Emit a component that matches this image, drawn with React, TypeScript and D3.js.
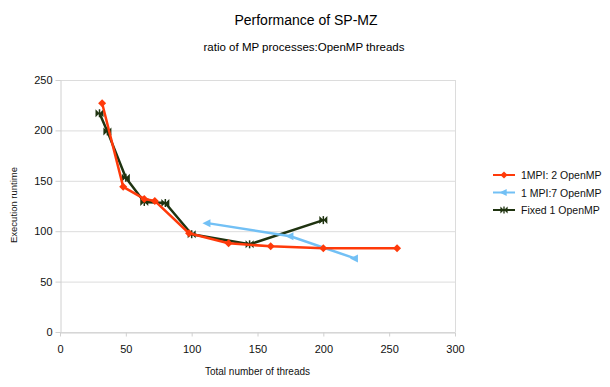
import React, { useRef, useEffect } from 'react';
import * as d3 from 'd3';

interface Pt {
    x: number;
    y: number;
}

// series values
const mpi2Threads = [32, 48, 64, 72, 98, 128, 160, 200, 256];
const mpi2Runtime = [227, 144, 132, 130, 98, 88, 85, 83, 83];

const mpi7Threads = [112, 175, 224];
const mpi7Runtime = [108, 95, 73];

const fixedThreads = [30, 36, 50, 64, 80, 100, 144, 200];
const fixedRuntime = [217, 199, 153, 129, 128, 97, 87, 111];

const seriesNames = ['1MPI: 2 OpenMP', '1 MPI:7 OpenMP', 'Fixed 1 OpenMP'];
const seriesColors = ['#ff3a0a', '#72c0f5', '#1f3310'];

const xTicks = [0, 50, 100, 150, 200, 250, 300];
const yTicks = [0, 50, 100, 150, 200, 250];

const zip = (xs: number[], ys: number[]): Pt[] => xs.map((x, i) => ({ x, y: ys[i] }));

const App: React.FC = () => {
    const svgRef = useRef<SVGSVGElement | null>(null);
    const width = 610;
    const height = 387;

    useEffect(() => {
        if (!svgRef.current) return;
        const svg = d3.select(svgRef.current);
        svg.selectAll('*').remove();

        const font = 'Arial, "Liberation Sans", sans-serif';
        const margin = { top: 80, right: 155, bottom: 55, left: 60 };
        const innerWidth = width - margin.left - margin.right;
        const innerHeight = height - margin.top - margin.bottom;

        const xScale = d3.scaleLinear().domain([0, 300]).range([0, innerWidth]);
        const yScale = d3.scaleLinear().domain([0, 250]).range([innerHeight, 0]);

        svg.append('rect').attr('width', width).attr('height', height).attr('fill', 'white');

        svg.append('text')
            .attr('x', 306)
            .attr('y', 25)
            .attr('text-anchor', 'middle')
            .attr('font-family', font)
            .attr('font-size', 14)
            .attr('fill', '#000')
            .text('Performance of SP-MZ');

        svg.append('text')
            .attr('x', 304)
            .attr('y', 51)
            .attr('text-anchor', 'middle')
            .attr('font-family', font)
            .attr('font-size', 11.5)
            .attr('fill', '#000')
            .text('ratio of MP processes:OpenMP threads');

        const g = svg.append('g').attr('transform', `translate(${margin.left},${margin.top})`);

        // grid
        g.selectAll('.grid')
            .data(yTicks)
            .enter()
            .append('line')
            .attr('x1', 0)
            .attr('x2', innerWidth)
            .attr('y1', (d) => yScale(d) + 0.5)
            .attr('y2', (d) => yScale(d) + 0.5)
            .attr('stroke', '#dcdcdc');

        g.append('line')
            .attr('x1', innerWidth + 0.5)
            .attr('x2', innerWidth + 0.5)
            .attr('y1', 0)
            .attr('y2', innerHeight)
            .attr('stroke', '#dcdcdc');

        const xAxis = d3.axisBottom(xScale).tickValues(xTicks).tickSize(4).tickSizeOuter(0);
        const yAxis = d3.axisLeft(yScale).tickValues(yTicks).tickSize(5).tickSizeOuter(0);

        const gx = g.append('g').attr('transform', `translate(0,${innerHeight + 0.5})`).call(xAxis);
        const gy = g.append('g').attr('transform', 'translate(0.5,0)').call(yAxis);
        [gx, gy].forEach((ax) => {
            ax.select('.domain').attr('stroke', '#d0d0d0');
            ax.selectAll('line').attr('stroke', '#d0d0d0');
            ax.selectAll('text')
                .attr('font-family', font)
                .attr('font-size', 11)
                .attr('fill', '#111');
        });
        gx.selectAll('text').attr('dy', '1.2em');
        gy.selectAll('text').attr('x', -8);

        g.append('text')
            .attr('x', innerWidth / 2)
            .attr('y', innerHeight + 43)
            .attr('text-anchor', 'middle')
            .attr('font-family', font)
            .attr('font-size', 10)
            .attr('fill', '#111')
            .text('Total number of threads');

        g.append('text')
            .attr('transform', 'rotate(-90)')
            .attr('x', -innerHeight / 2 + 1)
            .attr('y', -43)
            .attr('text-anchor', 'middle')
            .attr('font-family', font)
            .attr('font-size', 9.5)
            .attr('fill', '#111')
            .text('Execution runtime');

        const data = [
            zip(mpi2Threads, mpi2Runtime),
            zip(mpi7Threads, mpi7Runtime),
            zip(fixedThreads, fixedRuntime),
        ];

        const line = d3
            .line<Pt>()
            .x((d) => xScale(d.x))
            .y((d) => yScale(d.y));

        // marker shapes: diamond, left arrow, bowtie with bar
        const marker = (sel: d3.Selection<SVGGElement, unknown, null, undefined>, kind: number, color: string) => {
            if (kind === 0) {
                sel.append('path').attr('d', 'M0,-4L4,0L0,4L-4,0Z').attr('fill', color);
            } else if (kind === 1) {
                sel.append('path').attr('d', 'M-5,0L3,-4L3,4Z').attr('fill', color);
            } else {
                sel.append('path').attr('d', 'M-4,-4L0,0L-4,4Z M4,-4L0,0L4,4Z').attr('fill', color);
                sel.append('line').attr('x1', 0).attr('x2', 0).attr('y1', -4).attr('y2', 4)
                    .attr('stroke', color).attr('stroke-width', 1.5);
            }
        };

        [2, 1, 0].forEach((i) => {
            g.append('path')
                .datum(data[i])
                .attr('fill', 'none')
                .attr('stroke', seriesColors[i])
                .attr('stroke-width', 2.5)
                .attr('stroke-linejoin', 'round')
                .attr('d', line);
            data[i].forEach((d) => {
                const m = g.append('g').attr('transform', `translate(${xScale(d.x)},${yScale(d.y)})`);
                marker(m, i, seriesColors[i]);
            });
        });

        // legend
        const legend = svg.append('g').attr('transform', 'translate(493,175)');
        seriesNames.forEach((name, i) => {
            const row = legend.append('g').attr('transform', `translate(0,${i * 17.5})`);
            row.append('line')
                .attr('x1', 0)
                .attr('x2', 22)
                .attr('stroke', seriesColors[i])
                .attr('stroke-width', 2);
            const m = row.append('g').attr('transform', 'translate(11,0) scale(0.9)');
            marker(m, i, seriesColors[i]);
            row.append('text')
                .attr('x', 28)
                .attr('y', 4)
                .attr('font-family', font)
                .attr('font-size', 10.5)
                .attr('fill', '#111')
                .text(name);
        });
    }, []);

    return (
        <svg
            ref={svgRef}
            width={width}
            height={height}
            style={{ position: 'absolute', left: 0, top: 0 }}
        />
    );
};

export default App;
